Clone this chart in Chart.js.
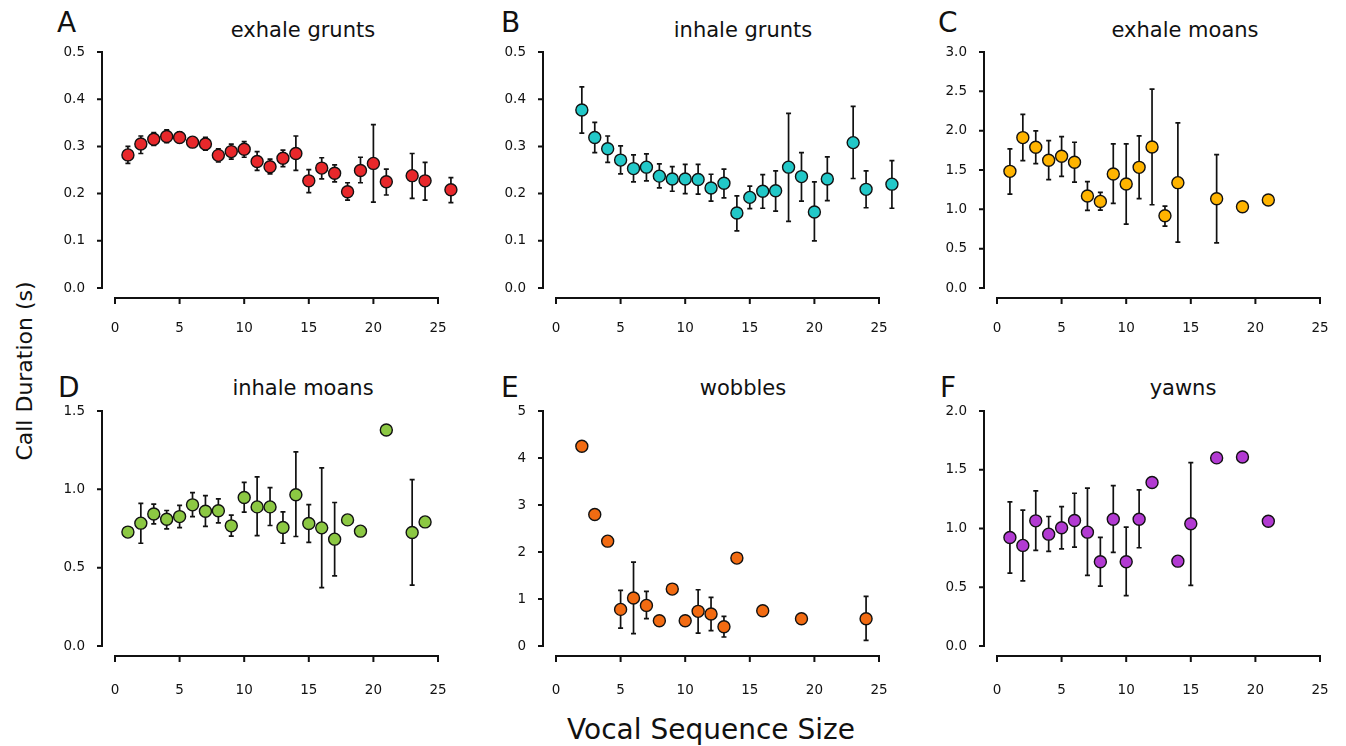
<!DOCTYPE html>
<html lang="en">
<head>
<meta charset="UTF-8">
<title>Call duration by vocal sequence size</title>
<script src="https://cdn.jsdelivr.net/npm/chart.js@4.4.0/dist/chart.umd.min.js"></script>
<style>
    body { margin: 0; background: #fff; width: 1346px; height: 746px; position: relative; overflow: hidden;
           font-family: "DejaVu Sans", sans-serif; color: #111; }
    canvas { position: absolute; }
    .letter { position: absolute; font-size: 28px; line-height: 28px; }
    .title { position: absolute; font-size: 21px; line-height: 21px; white-space: nowrap; transform: translateX(-50%); }
    #ytitle { position: absolute; left: 25px; top: 371px; font-size: 22px; line-height: 22px; white-space: nowrap;
              transform: translate(-50%, -50%) rotate(-90deg); }
    #xtitle { position: absolute; left: 711px; top: 716px; font-size: 28px; line-height: 28px; white-space: nowrap;
              transform: translateX(-50%); }
</style>
</head>
<body>
    <div class="letter" style="left:57px;top:9px">A</div>
    <div class="letter" style="left:501px;top:9px">B</div>
    <div class="letter" style="left:938px;top:9px">C</div>
    <div class="letter" style="left:58px;top:374px">D</div>
    <div class="letter" style="left:501px;top:374px">E</div>
    <div class="letter" style="left:940px;top:374px">F</div>

    <div class="title" style="left:303px;top:20px">exhale grunts</div>
    <div class="title" style="left:743px;top:20px">inhale grunts</div>
    <div class="title" style="left:1185px;top:20px">exhale moans</div>
    <div class="title" style="left:303px;top:378px">inhale moans</div>
    <div class="title" style="left:743px;top:378px">wobbles</div>
    <div class="title" style="left:1183px;top:378px">yawns</div>

    <div id="ytitle">Call Duration (s)</div>
    <div id="xtitle">Vocal Sequence Size</div>

    <canvas id="chartA"></canvas>
    <canvas id="chartB"></canvas>
    <canvas id="chartC"></canvas>
    <canvas id="chartD"></canvas>
    <canvas id="chartE"></canvas>
    <canvas id="chartF"></canvas>

<script>
// A - exhale grunts
const aX    = [1, 2, 3, 4, 5, 6, 7, 8, 9, 10, 11, 12, 13, 14, 15, 16, 17, 18, 19, 20, 21, 23, 24, 26];
const aMean = [0.282, 0.305, 0.315, 0.321, 0.319, 0.309, 0.305, 0.281, 0.289, 0.294, 0.268, 0.257, 0.275, 0.285, 0.227, 0.254, 0.243, 0.204, 0.249, 0.264, 0.225, 0.238, 0.227, 0.208];
const aLow  = [0.264, 0.285, 0.302, 0.308, 0.308, 0.303, 0.292, 0.267, 0.273, 0.277, 0.249, 0.242, 0.257, 0.249, 0.202, 0.231, 0.225, 0.186, 0.223, 0.182, 0.197, 0.190, 0.186, 0.181];
const aHigh = [0.300, 0.322, 0.329, 0.335, 0.331, 0.314, 0.319, 0.295, 0.305, 0.310, 0.289, 0.273, 0.292, 0.322, 0.251, 0.276, 0.261, 0.223, 0.277, 0.346, 0.252, 0.285, 0.266, 0.234];

// B - inhale grunts
const bX    = [2, 3, 4, 5, 6, 7, 8, 9, 10, 11, 12, 13, 14, 15, 16, 17, 18, 19, 20, 21, 23, 24, 26];
const bMean = [0.377, 0.319, 0.295, 0.271, 0.253, 0.256, 0.237, 0.231, 0.231, 0.230, 0.212, 0.222, 0.159, 0.192, 0.205, 0.206, 0.256, 0.236, 0.161, 0.231, 0.308, 0.209, 0.220];
const bLow  = [0.328, 0.287, 0.266, 0.242, 0.225, 0.227, 0.212, 0.205, 0.200, 0.199, 0.184, 0.191, 0.121, 0.168, 0.169, 0.163, 0.141, 0.184, 0.100, 0.185, 0.232, 0.170, 0.169];
const bHigh = [0.426, 0.351, 0.322, 0.301, 0.282, 0.284, 0.263, 0.257, 0.262, 0.262, 0.241, 0.252, 0.195, 0.216, 0.240, 0.248, 0.370, 0.287, 0.225, 0.278, 0.385, 0.248, 0.270];

// C - exhale moans
const cX    = [1, 2, 3, 4, 5, 6, 7, 8, 9, 10, 11, 12, 13, 14, 17, 19, 21];
const cMean = [1.483, 1.912, 1.789, 1.623, 1.674, 1.598, 1.169, 1.101, 1.449, 1.322, 1.534, 1.793, 0.918, 1.339, 1.135, 1.033, 1.118];
const cLow  = [1.194, 1.619, 1.581, 1.377, 1.419, 1.347, 0.986, 0.990, 1.075, 0.812, 1.135, 1.058, 0.786, 0.582, 0.574, null, null];
const cHigh = [1.768, 2.206, 1.997, 1.874, 1.925, 1.853, 1.351, 1.215, 1.832, 1.832, 1.934, 2.529, 1.041, 2.099, 1.696, null, null];

// D - inhale moans
const dX    = [1, 2, 3, 4, 5, 6, 7, 8, 9, 10, 11, 12, 13, 14, 15, 16, 17, 18, 19, 21, 23, 24];
const dMean = [0.727, 0.784, 0.843, 0.809, 0.826, 0.901, 0.860, 0.863, 0.767, 0.948, 0.888, 0.888, 0.756, 0.965, 0.782, 0.754, 0.682, 0.805, 0.733, 1.379, 0.724, 0.792];
const dLow  = [null, 0.656, 0.780, 0.748, 0.756, 0.826, 0.763, 0.786, 0.701, 0.854, 0.705, 0.769, 0.656, 0.699, 0.661, 0.372, 0.448, null, null, null, 0.389, null];
const dHigh = [null, 0.911, 0.905, 0.865, 0.897, 0.979, 0.960, 0.939, 0.835, 1.045, 1.079, 1.011, 0.856, 1.239, 0.903, 1.137, 0.916, null, null, null, 1.062, null];

// E - wobbles
const eX    = [2, 3, 4, 5, 6, 7, 8, 9, 10, 11, 12, 13, 14, 16, 19, 24];
const eMean = [4.249, 2.797, 2.231, 0.779, 1.020, 0.864, 0.538, 1.211, 0.538, 0.737, 0.680, 0.411, 1.870, 0.751, 0.581, 0.581];
const eLow  = [null, null, null, 0.382, 0.262, 0.581, null, null, null, 0.276, 0.326, 0.191, null, null, null, 0.120];
const eHigh = [null, null, null, 1.183, 1.785, 1.161, null, null, null, 1.197, 1.034, 0.630, null, null, null, 1.055];

// F - yawns
const fX    = [1, 2, 3, 4, 5, 6, 7, 8, 9, 10, 11, 12, 14, 15, 17, 19, 21];
const fMean = [0.924, 0.856, 1.065, 0.952, 1.006, 1.068, 0.969, 0.717, 1.079, 0.717, 1.079, 1.391, 0.722, 1.040, 1.601, 1.609, 1.062];
const fLow  = [0.620, 0.555, 0.813, 0.805, 0.827, 0.841, 0.601, 0.510, 0.796, 0.428, 0.836, null, null, 0.516, null, null, null];
const fHigh = [1.227, 1.156, 1.320, 1.102, 1.187, 1.300, 1.343, 0.924, 1.365, 1.011, 1.329, null, null, 1.561, null, null, null];

const xTickValues = [0, 5, 10, 15, 20, 25];
const xTicksEnd = 25;   // axis line stops at 25, points go up to 26
const xScaleEnd = 26.5;

const tickFont = { family: 'DejaVu Sans', size: 13.5 };
const ink = '#111';

// axes drawn away from the plot area, like the original figure
const detachedAxes = {
    id: 'detachedAxes',
    afterDraw(chart) {
        const ctx = chart.ctx, xs = chart.scales.x, ys = chart.scales.y;
        const x0 = xs.getPixelForValue(0), x1 = xs.getPixelForValue(xTicksEnd);
        const y0 = ys.getPixelForValue(ys.min), y1 = ys.getPixelForValue(ys.max);
        const ax = x0 - 13, ay = y0 + 10;
        ctx.save();
        ctx.strokeStyle = ink;
        ctx.lineWidth = 2;
        ctx.beginPath();
        ctx.moveTo(ax, y1 - 1);
        ctx.lineTo(ax, y0 + 1);
        ys.ticks.forEach(t => {
            const p = ys.getPixelForValue(t.value);
            ctx.moveTo(ax - 5, p);
            ctx.lineTo(ax, p);
        });
        ctx.moveTo(x0 - 1, ay);
        ctx.lineTo(x1 + 1, ay);
        xs.ticks.forEach(t => {
            const p = xs.getPixelForValue(t.value);
            ctx.moveTo(p, ay);
            ctx.lineTo(p, ay + 6);
        });
        ctx.stroke();
        ctx.restore();
    }
};

const errorBars = {
    id: 'errorBars',
    beforeDatasetsDraw(chart) {
        const ctx = chart.ctx, xs = chart.scales.x, ys = chart.scales.y;
        const ds = chart.data.datasets[0];
        ctx.save();
        ctx.strokeStyle = ink;
        ctx.lineWidth = 1.7;
        ds.errLow.forEach((lo, i) => {
            if (lo == null) return;
            const px = xs.getPixelForValue(ds.data[i].x);
            const pl = ys.getPixelForValue(lo);
            const ph = ys.getPixelForValue(ds.errHigh[i]);
            ctx.beginPath();
            ctx.moveTo(px, ph); ctx.lineTo(px, pl);
            ctx.moveTo(px - 2.5, ph); ctx.lineTo(px + 2.5, ph);
            ctx.moveTo(px - 2.5, pl); ctx.lineTo(px + 2.5, pl);
            ctx.stroke();
        });
        ctx.restore();
    }
};

function makePanel(id, xs, mean, low, high, color, yMax, step, dec, x0, top, plotH, labelPad) {
    // padTop / padRight leave room for chart.js's own label padding so the plot box lands where we want
    const plotW = 323 / xTicksEnd * xScaleEnd, axisW = 70, axisH = 60, padTop = 42;
    const cv = document.getElementById(id);
    cv.width = axisW + Math.ceil(plotW) + 32;
    cv.height = padTop + plotH + axisH;
    cv.style.left = (x0 - axisW) + 'px';
    cv.style.top = (top - padTop) + 'px';
    const padRight = cv.width - axisW - plotW;

    return new Chart(cv, {
        type: 'scatter',
        data: {
            datasets: [{
                data: xs.map((x, i) => ({ x: x, y: mean[i] })),
                errLow: low,
                errHigh: high,
                backgroundColor: color,
                borderColor: ink,
                borderWidth: 1.4,
                pointRadius: 6,
                clip: false
            }]
        },
        options: {
            responsive: false,
            animation: false,
            devicePixelRatio: 1,
            layout: { padding: { left: 0, right: padRight, top: padTop, bottom: 0 } },
            plugins: { legend: { display: false }, tooltip: { enabled: false } },
            scales: {
                x: {
                    type: 'linear', min: 0, max: xScaleEnd,
                    grid: { display: false, drawTicks: false },
                    border: { display: false },
                    ticks: { padding: labelPad, font: tickFont, color: ink, maxRotation: 0, autoSkip: false },
                    afterBuildTicks(s) { s.ticks = xTickValues.map(v => ({ value: v })); },
                    afterFit(s) { s.height = axisH; }
                },
                y: {
                    min: 0, max: yMax,
                    grid: { display: false, drawTicks: false },
                    border: { display: false },
                    ticks: { stepSize: step, padding: 30, font: tickFont, color: ink,
                             callback: v => Number(v).toFixed(dec) },
                    afterFit(s) { s.width = axisW; }
                }
            }
        },
        plugins: [errorBars, detachedAxes]
    });
}

makePanel('chartA', aX, aMean, aLow, aHigh, '#e8282b', 0.5, 0.1, 1, 115, 52, 236, 32);
makePanel('chartB', bX, bMean, bLow, bHigh, '#22c8c8', 0.5, 0.1, 1, 556, 52, 236, 32);
makePanel('chartC', cX, cMean, cLow, cHigh, '#ffb400', 3.0, 0.5, 1, 997, 52, 236, 32);
makePanel('chartD', dX, dMean, dLow, dHigh, '#8cc843', 1.5, 0.5, 1, 115, 411, 235, 36);
makePanel('chartE', eX, eMean, eLow, eHigh, '#f26b12', 5, 1, 0, 556, 411, 235, 36);
makePanel('chartF', fX, fMean, fLow, fHigh, '#b23ad2', 2.0, 0.5, 1, 997, 411, 235, 36);
</script>
</body>
</html>
